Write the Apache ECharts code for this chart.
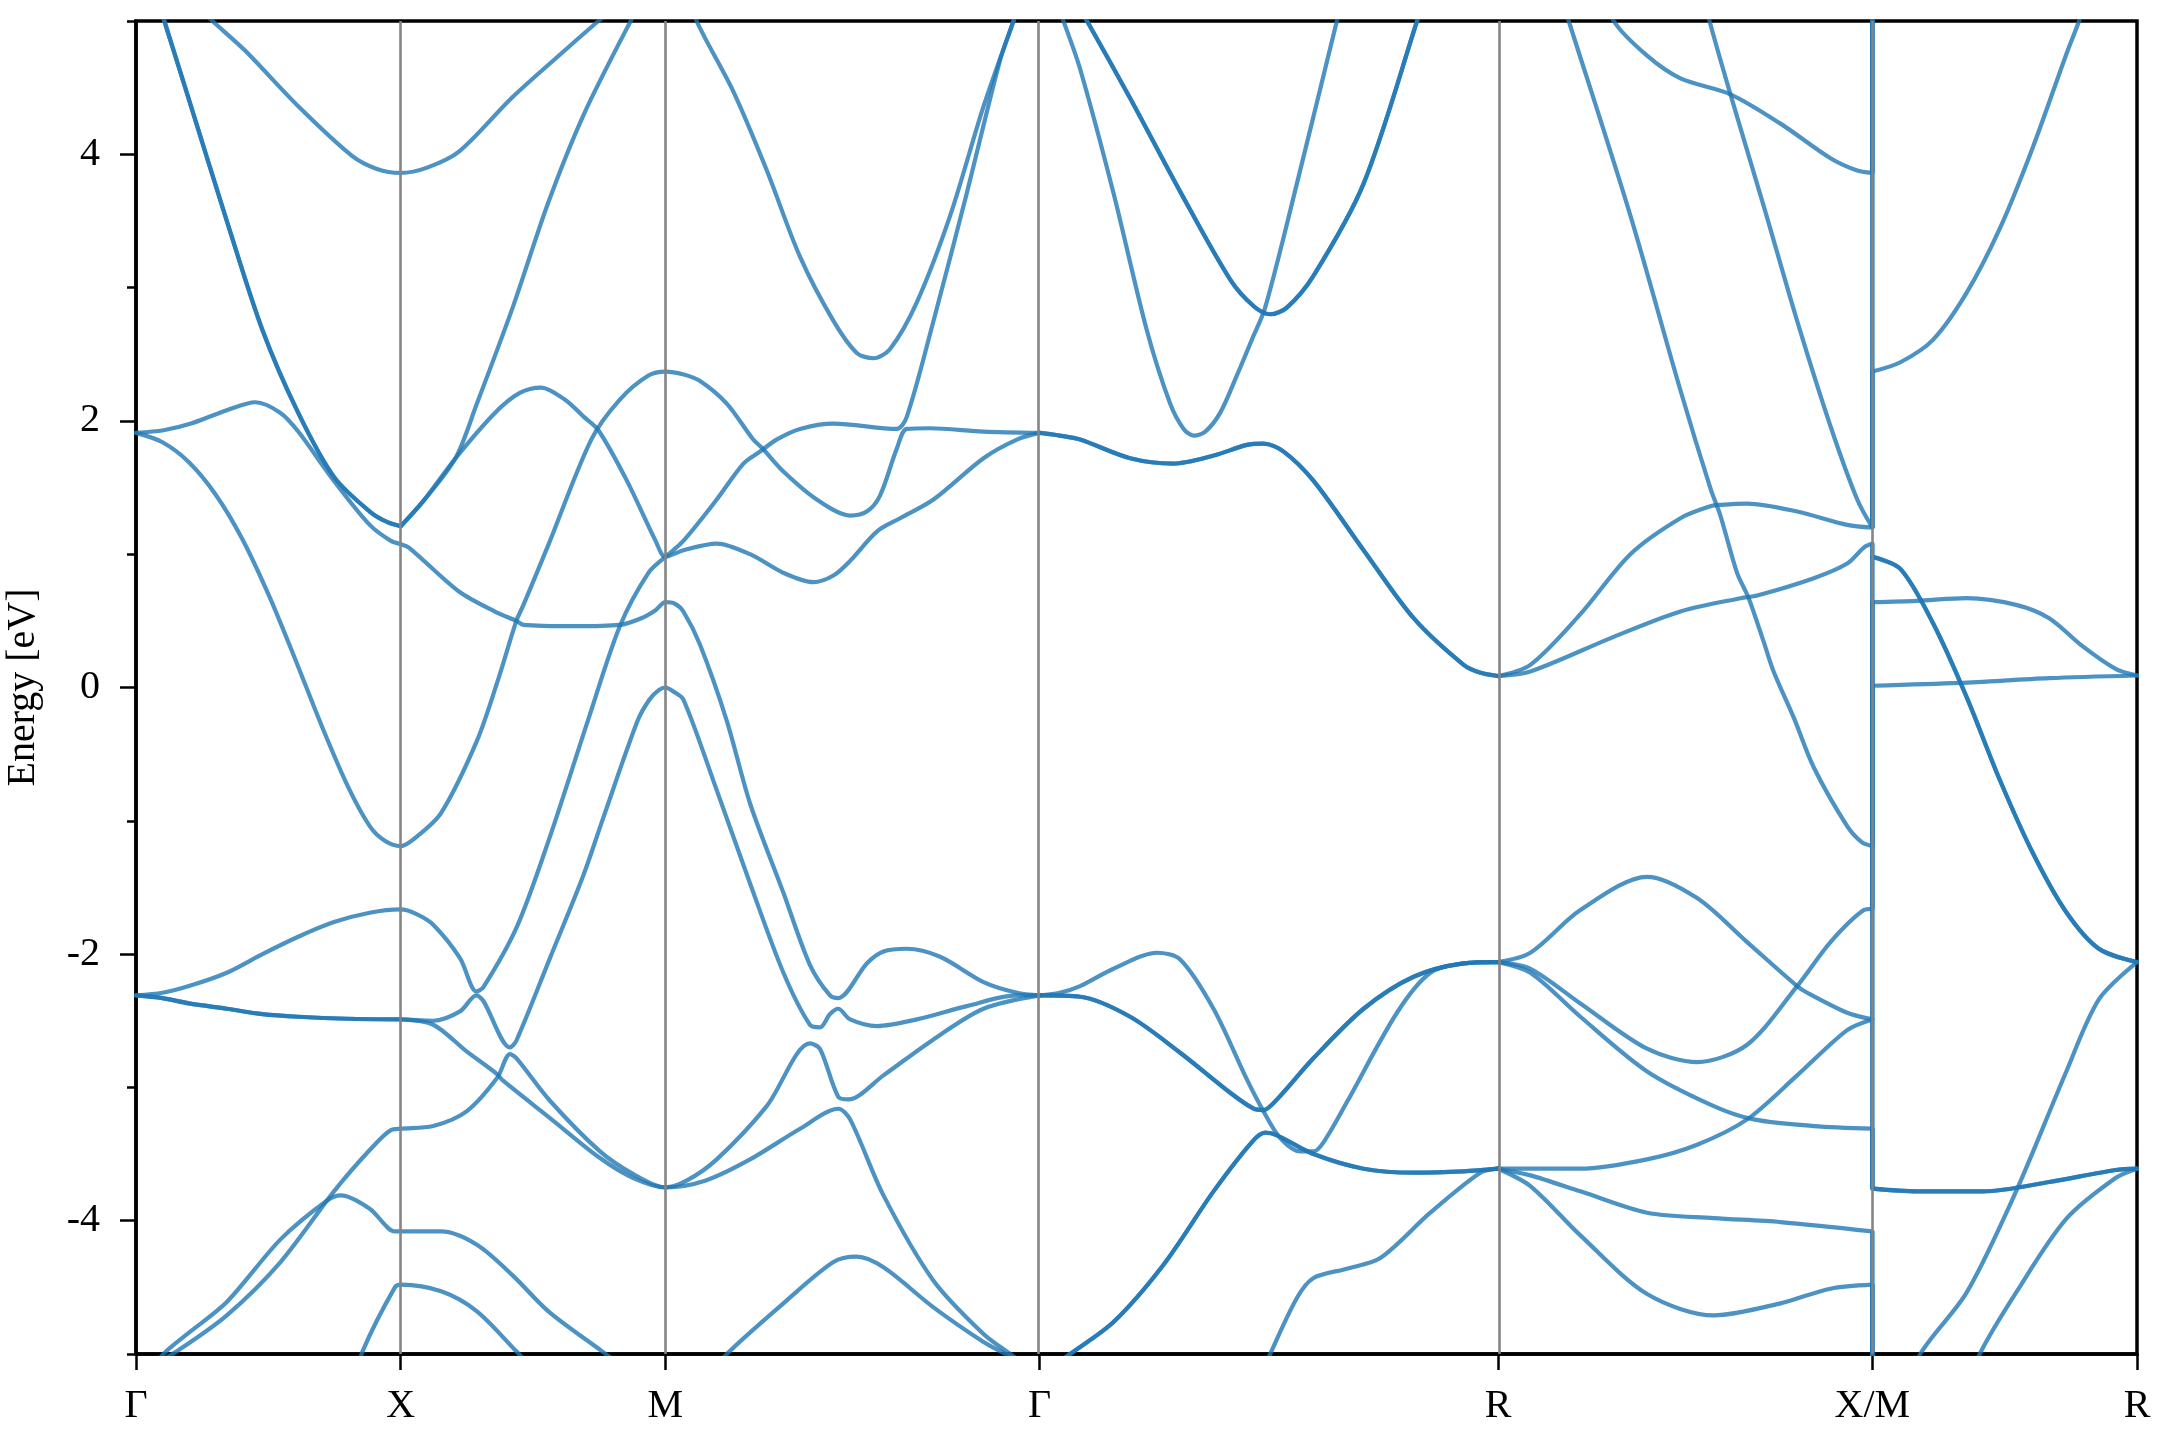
<!DOCTYPE html>
<html><head><meta charset="utf-8">
<script src="https://cdn.jsdelivr.net/npm/echarts@6/dist/echarts.min.js"></script>
<style>html,body{margin:0;padding:0;background:#fff}#c{width:2160px;height:1440px}</style>
</head><body><div id="c"></div>
<script>
// High-symmetry path positions (k-distance) and labels
const kTicks = [0, 1, 2, 3.414, 5.146, 6.560, 7.560];
const kLabels = ['Γ', 'X', 'M', 'Γ', 'R', 'X/M', 'R'];
const yMajor = [-4, -2, 0, 2, 4];
const yMinor = [-5, -3, -1, 1, 3, 5];

// ---- Γ–X–M–Γ bands: [k, E(eV)] ----
const bandA = [[0.07,5.23],[0.107,5.0],[0.208,4.36],[0.343,3.50],[0.478,2.68],[0.613,2.06],[0.748,1.58],[0.883,1.32],[0.95,1.24],[1,1.21]];
const bandGXTop = [[0.25,5.08],[0.289,5.0],[0.411,4.78],[0.613,4.36],[0.815,3.99],[0.91,3.89],[1,3.86],[1.1,3.90],[1.22,4.02],[1.423,4.43],[1.626,4.79],[1.747,5.0],[1.79,5.07]];
const bandL3 = [[1,1.21],[1.086,1.40],[1.207,1.72],[1.288,2.13],[1.423,2.85],[1.558,3.64],[1.692,4.30],[1.869,5.0],[1.93,5.21]];
const bandL2 = [[1,1.21],[1.086,1.40],[1.207,1.72],[1.356,2.06],[1.45,2.21],[1.531,2.25],[1.62,2.16],[1.692,2.03],[1.747,1.93],[1.855,1.55],[1.963,1.10],[2,0.98],[2.068,1.03],[2.194,1.08],[2.320,1.00],[2.446,0.86],[2.559,0.79],[2.635,0.84],[2.698,0.95],[2.799,1.17],[2.887,1.27],[3.013,1.41],[3.202,1.72],[3.328,1.86],[3.414,1.91]];
const bandHump = [[0,1.91],[0.104,1.93],[0.208,1.98],[0.343,2.08],[0.451,2.14],[0.546,2.06],[0.613,1.92],[0.748,1.55],[0.883,1.22],[0.963,1.10],[1,1.075],[1.031,1.05],[1.22,0.72],[1.356,0.57],[1.437,0.50],[1.464,0.47],[1.653,0.46],[1.828,0.47],[1.909,0.52],[1.963,0.58],[2,0.64],[2.035,0.63],[2.068,0.57],[2.131,0.32],[2.232,-0.25],[2.320,-0.87],[2.446,-1.54],[2.546,-2.08],[2.622,-2.31],[2.653,-2.33],[2.761,-2.07],[2.824,-1.98],[2.912,-1.96],[3.038,-2.02],[3.202,-2.21],[3.328,-2.29],[3.414,-2.31]];
const bandPara = [[0,1.91],[0.1,1.84],[0.2,1.69],[0.3,1.45],[0.4,1.12],[0.5,0.70],[0.6,0.22],[0.7,-0.28],[0.8,-0.74],[0.883,-1.04],[0.94,-1.15],[1,-1.19],[1.06,-1.12],[1.153,-0.94],[1.288,-0.40],[1.369,0.065],[1.437,0.50],[1.464,0.62],[1.558,1.07],[1.72,1.86],[1.828,2.16],[1.936,2.34],[2,2.37],[2.066,2.35],[2.131,2.30],[2.232,2.13],[2.332,1.86],[2.364,1.80],[2.446,1.62],[2.572,1.41],[2.698,1.29],[2.761,1.32],[2.811,1.44],[2.874,1.79],[2.912,1.94],[3.0,1.945],[3.202,1.92],[3.414,1.91]];
const bandC5 = [[0,-2.31],[0.1,-2.29],[0.2,-2.24],[0.343,-2.14],[0.478,-2.0],[0.613,-1.87],[0.748,-1.76],[0.883,-1.69],[1,-1.665],[1.06,-1.70],[1.123,-1.78],[1.224,-2.03],[1.286,-2.28],[1.312,-2.25],[1.438,-1.80],[1.562,-1.13],[1.707,-0.25],[1.828,0.46],[1.936,0.86],[2,0.98],[2.068,1.10],[2.194,1.41],[2.295,1.68],[2.358,1.77],[2.42,1.86],[2.509,1.94],[2.635,1.98],[2.874,1.94],[2.912,2.03],[3.013,2.75],[3.139,3.71],[3.265,4.71],[3.315,5.0],[3.34,5.2]];
const bandMGTop = [[2.09,5.2],[2.118,5.0],[2.257,4.47],[2.383,3.88],[2.509,3.23],[2.635,2.75],[2.723,2.51],[2.786,2.47],[2.849,2.54],[2.950,2.89],[3.076,3.54],[3.202,4.36],[3.315,5.0],[3.34,5.15]];
const bandGXLow = [[0,-2.31],[0.1,-2.33],[0.2,-2.37],[0.343,-2.41],[0.478,-2.45],[0.613,-2.47],[0.8,-2.485],[1,-2.49]];
const band7a = [[1,-2.49],[1.123,-2.50],[1.224,-2.43],[1.286,-2.31],[1.312,-2.35],[1.413,-2.70],[1.437,-2.65],[1.564,-2.03],[1.690,-1.41],[1.765,-0.98],[1.895,-0.25],[1.94,-0.09],[1.975,-0.02],[2,0.0],[2.03,-0.03],[2.068,-0.09],[2.194,-0.77],[2.320,-1.47],[2.446,-2.14],[2.546,-2.53],[2.584,-2.55],[2.622,-2.45],[2.653,-2.41],[2.698,-2.49],[2.799,-2.54],[2.950,-2.49],[3.139,-2.39],[3.328,-2.31],[3.414,-2.31]];
const band7b = [[1,-2.49],[1.123,-2.53],[1.249,-2.73],[1.364,-2.90],[1.387,-2.95],[1.564,-3.23],[1.753,-3.53],[1.879,-3.68],[2,-3.75],[2.15,-3.70],[2.320,-3.54],[2.509,-3.31],[2.653,-3.16],[2.698,-3.24],[2.824,-3.81],[3.013,-4.45],[3.202,-4.85],[3.303,-5.0],[3.36,-5.08]];
const band8 = [[0.05,-5.1],[0.154,-4.98],[0.343,-4.71],[0.546,-4.31],[0.748,-3.78],[0.883,-3.47],[0.963,-3.32],[1,-3.31],[1.123,-3.29],[1.249,-3.18],[1.364,-2.93],[1.413,-2.75],[1.437,-2.78],[1.564,-3.10],[1.753,-3.48],[1.879,-3.65],[2,-3.75],[2.08,-3.70],[2.194,-3.54],[2.383,-3.14],[2.546,-2.67],[2.584,-2.71],[2.653,-3.07],[2.692,-3.09],[2.824,-2.91],[3.013,-2.64],[3.202,-2.41],[3.414,-2.31]];
const band9 = [[0.04,-5.15],[0.114,-4.98],[0.2,-4.84],[0.343,-4.61],[0.546,-4.14],[0.721,-3.85],[0.775,-3.81],[0.883,-3.91],[0.978,-4.08],[1,-4.08],[1.153,-4.08],[1.288,-4.18],[1.423,-4.41],[1.558,-4.68],[1.761,-4.98],[1.83,-5.08]];
const band10 = [[0.83,-5.2],[0.856,-4.98],[0.978,-4.50],[1,-4.48],[1.153,-4.53],[1.288,-4.68],[1.437,-4.98],[1.47,-5.05]];
const bandMGLow = [[2.19,-5.12],[2.232,-5.0],[2.446,-4.62],[2.635,-4.31],[2.723,-4.27],[2.824,-4.35],[3.013,-4.65],[3.202,-4.91],[3.285,-5.0],[3.33,-5.05]];

// ---- Γ–R ----
const bandGR1 = [[3.414,1.91],[3.49,1.89],[3.567,1.86],[3.756,1.72],[3.920,1.68],[4.072,1.74],[4.197,1.82],[4.260,1.83],[4.336,1.77],[4.449,1.55],[4.638,1.03],[4.827,0.52],[5.016,0.17],[5.08,0.11],[5.146,0.086]];
const bandGR2 = [[3.48,5.12],[3.504,5.0],[3.567,4.64],[3.693,3.71],[3.819,2.68],[3.907,2.13],[3.958,1.94],[3.996,1.89],[4.040,1.92],[4.096,2.06],[4.159,2.34],[4.216,2.61],[4.266,2.85],[4.386,3.78],[4.537,5.0],[4.56,5.19]];
const bandGR3 = [[3.575,5.06],[3.593,5.0],[3.756,4.42],[3.945,3.72],[4.134,3.06],[4.223,2.86],[4.285,2.80],[4.348,2.85],[4.449,3.09],[4.638,3.78],[4.840,5.0],[4.87,5.2]];
const bandGR4 = [[3.414,-2.31],[3.49,-2.29],[3.567,-2.24],[3.693,-2.11],[3.857,-1.99],[3.945,-2.04],[4.071,-2.41],[4.197,-2.94],[4.260,-3.18],[4.323,-3.38],[4.399,-3.48],[4.449,-3.48],[4.487,-3.41],[4.575,-3.11],[4.764,-2.44],[4.890,-2.14],[5.016,-2.07],[5.146,-2.06]];
const bandGR5 = [[3.414,-2.31],[3.567,-2.32],[3.756,-2.47],[3.945,-2.74],[4.134,-3.04],[4.223,-3.16],[4.260,-3.17],[4.311,-3.09],[4.449,-2.78],[4.638,-2.41],[4.827,-2.17],[5.016,-2.07],[5.146,-2.06]];
const bandGR6 = [[3.46,-5.1],[3.529,-5.0],[3.693,-4.76],[3.882,-4.33],[4.071,-3.78],[4.216,-3.41],[4.266,-3.34],[4.311,-3.36],[4.449,-3.50],[4.638,-3.61],[4.827,-3.64],[5.016,-3.63],[5.146,-3.61]];
const bandGR7 = [[4.265,-5.1],[4.285,-5.0],[4.386,-4.58],[4.449,-4.43],[4.575,-4.36],[4.701,-4.28],[4.890,-3.94],[5.079,-3.64],[5.146,-3.61]];

// ---- R–X ----
const bandRX1 = [[5.146,0.086],[5.268,0.17],[5.457,0.55],[5.646,1.0],[5.835,1.27],[5.949,1.36],[5.986,1.37],[6.087,1.38],[6.276,1.32],[6.465,1.22],[6.560,1.20]];
const bandRX2 = [[5.146,0.086],[5.268,0.12],[5.583,0.38],[5.835,0.57],[6.062,0.67],[6.125,0.69],[6.339,0.82],[6.465,0.93],[6.528,1.05],[6.560,1.08]];
const bandRX3 = [[5.38,5.2],[5.413,5.0],[5.646,3.54],[5.835,2.23],[5.949,1.49],[5.986,1.29],[6.049,0.86],[6.093,0.67],[6.150,0.34],[6.187,0.12],[6.264,-0.23],[6.339,-0.60],[6.465,-1.04],[6.52,-1.16],[6.560,-1.19]];
const bandRX4 = [[5.93,5.15],[5.945,5.0],[6.024,4.45],[6.150,3.61],[6.276,2.75],[6.402,1.96],[6.503,1.41],[6.560,1.20]];
const bandRX5 = [[5.55,5.25],[5.583,5.0],[5.709,4.74],[5.835,4.57],[6.024,4.45],[6.213,4.23],[6.402,3.97],[6.50,3.88],[6.560,3.86]];
const bandRX6 = [[5.146,-2.06],[5.268,-1.99],[5.457,-1.67],[5.709,-1.42],[5.898,-1.58],[6.087,-1.91],[6.276,-2.24],[6.314,-2.29],[6.465,-2.44],[6.560,-2.49]];
const bandRX7 = [[5.146,-2.06],[5.268,-2.11],[5.457,-2.37],[5.709,-2.71],[5.898,-2.81],[6.087,-2.68],[6.276,-2.24],[6.402,-1.91],[6.528,-1.67],[6.560,-1.66]];
const bandRX8 = [[5.146,-2.06],[5.268,-2.14],[5.457,-2.47],[5.709,-2.88],[5.961,-3.14],[6.112,-3.24],[6.339,-3.29],[6.560,-3.31]];
const bandRX9 = [[5.146,-3.61],[5.457,-3.61],[5.709,-3.54],[5.898,-3.43],[6.087,-3.24],[6.276,-2.91],[6.465,-2.57],[6.560,-2.49]];
const bandRX10 = [[5.146,-3.61],[5.268,-3.66],[5.457,-3.78],[5.709,-3.94],[5.961,-3.98],[6.213,-4.01],[6.560,-4.08]];
const bandRX11 = [[5.146,-3.61],[5.268,-3.74],[5.457,-4.11],[5.709,-4.55],[5.961,-4.71],[6.213,-4.62],[6.402,-4.51],[6.560,-4.48]];

// ---- M–R ----
const bandMR1 = [[6.560,2.37],[6.666,2.44],[6.790,2.61],[6.916,2.96],[7.041,3.44],[7.166,4.05],[7.291,4.74],[7.341,5.0],[7.39,5.3]];
const bandMR2 = [[6.560,0.98],[6.666,0.89],[6.790,0.48],[6.916,-0.07],[7.041,-0.69],[7.166,-1.24],[7.291,-1.68],[7.416,-1.96],[7.560,-2.06]];
const bandMR3 = [[6.560,0.64],[6.728,0.65],[6.916,0.67],[7.103,0.62],[7.228,0.52],[7.354,0.31],[7.479,0.14],[7.560,0.09]];
const bandMR4 = [[6.560,0.013],[6.890,0.034],[7.228,0.07],[7.560,0.09]];
const bandMR5 = [[6.560,-3.76],[6.728,-3.78],[6.979,-3.78],[7.228,-3.71],[7.479,-3.62],[7.560,-3.61]];
const bandMR6 = [[6.72,-5.2],[6.741,-5.0],[6.916,-4.54],[7.103,-3.78],[7.291,-2.89],[7.416,-2.34],[7.560,-2.06]];
const bandMR7 = [[6.94,-5.2],[6.966,-5.0],[7.103,-4.54],[7.291,-3.99],[7.479,-3.68],[7.560,-3.61]];

// Band jumps at X/M: [E at X, E at M]
const xmJumps = [[3.86,5.6],[1.20,5.6],[1.20,2.37],[1.08,0.98],[-1.19,0.98],[-1.66,0.64],[-2.49,0.0],[-2.49,-3.76],[-3.31,-3.76],[-4.08,-5.6],[-4.48,-5.6]];

// [band, multiplicity] (degenerate pairs drawn twice)
const bandList = [
  [bandA,2],[bandGXTop,1],[bandL3,1],[bandL2,1],[bandHump,1],[bandPara,1],[bandC5,1],[bandMGTop,1],
  [bandGXLow,2],[band7a,1],[band7b,1],[band8,1],[band9,1],[band10,1],[bandMGLow,1],
  [bandGR1,2],[bandGR2,1],[bandGR3,2],[bandGR4,1],[bandGR5,2],[bandGR6,2],[bandGR7,1],
  [bandRX1,1],[bandRX2,1],[bandRX3,1],[bandRX4,1],[bandRX5,1],[bandRX6,1],[bandRX7,1],[bandRX8,1],[bandRX9,1],[bandRX10,1],[bandRX11,1],
  [bandMR1,1],[bandMR2,2],[bandMR3,1],[bandMR4,1],[bandMR5,2],[bandMR6,1],[bandMR7,1]
];

const FONT = '"Liberation Serif", "Times New Roman", serif';
const lineCol = '#1f77b4';
const LW = 4.2;
const series = [];
series.push({
  type: 'line', data: [], silent: true, z: 1,
  markLine: {
    silent: true, symbol: 'none', animation: false,
    label: { show: false },
    lineStyle: { color: '#858585', width: 2.6, type: 'solid' },
    data: kTicks.slice(1, -1).map(v => ({ xAxis: v }))
  }
});
bandList.forEach(([d, n]) => {
  for (let i = 0; i < n; i++) {
    series.push({
      type: 'line', data: d, symbol: 'none', showSymbol: false, silent: true,
      smooth: 0.3, clip: true, z: 2,
      lineStyle: { color: lineCol, width: LW, opacity: 0.8, join: 'round', cap: 'round' }
    });
  }
});
xmJumps.forEach(([ex, em]) => {
  for (let i = 0; i < 2; i++) {
    series.push({
      type: 'line', data: [[kTicks[5], ex], [kTicks[5], em]], symbol: 'none', showSymbol: false,
      silent: true, clip: true, z: 2,
      lineStyle: { color: lineCol, width: LW, opacity: 0.8 }
    });
  }
});

const chart = echarts.init(document.getElementById('c'), null, { renderer: 'canvas' });
chart.setOption({
  animation: false,
  backgroundColor: '#ffffff',
  grid: { left: 136, right: 23, top: 21, bottom: 86, containLabel: false, outerBoundsMode: 'none',
          show: true, borderColor: '#000', borderWidth: 3.5, backgroundColor: 'transparent' },
  xAxis: {
    type: 'value', min: 0, max: 7.56,
    axisLine: { onZero: false, lineStyle: { color: '#000', width: 3.5 } },
    axisTick: { show: true, customValues: kTicks, length: 16, lineStyle: { color: '#000', width: 2.5 } },
    axisLabel: {
      customValues: kTicks, margin: 32, color: '#000', fontFamily: FONT, fontSize: 40,
      formatter: v => { const i = kTicks.findIndex(t => Math.abs(t - v) < 1e-6); return i >= 0 ? kLabels[i] : ''; }
    },
    splitLine: { show: false }
  },
  yAxis: [{
    type: 'value', min: -5, max: 5, position: 'left',
    name: 'Energy [eV]', nameLocation: 'middle', nameGap: 93,
    nameTextStyle: { color: '#000', fontFamily: FONT, fontSize: 40 },
    axisLine: { show: true, onZero: false, lineStyle: { color: '#000', width: 3.5 } },
    axisTick: { show: true, customValues: yMajor, length: 16, lineStyle: { color: '#000', width: 2.5 } },
    axisLabel: { customValues: yMajor, margin: 36, color: '#000', fontFamily: FONT, fontSize: 40 },
    splitLine: { show: false }
  }, {
    type: 'value', min: -5, max: 5, position: 'left',
    axisLine: { show: false, onZero: false },
    axisTick: { show: true, customValues: yMinor, length: 9, lineStyle: { color: '#000', width: 2.5 } },
    axisLabel: { show: false, customValues: yMinor },
    splitLine: { show: false }
  }],
  series: series
});
</script>
</body></html>
